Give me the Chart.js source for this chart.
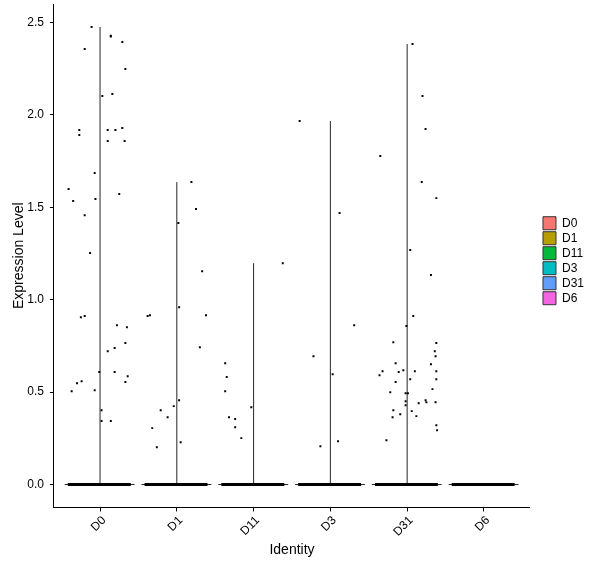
<!DOCTYPE html>
<html>
<head>
<meta charset="utf-8">
<script src="https://cdn.jsdelivr.net/npm/chart.js@4/dist/chart.umd.min.js"></script>
<style>
  body { margin: 0; background: #fff; }
  #wrap { width: 600px; height: 568px; }
</style>
</head>
<body>
<div id="wrap"><canvas id="vln" width="600" height="568"></canvas></div>
<script>
// groups and legend colours (ggplot hue palette)
var groupNames  = ["D0", "D1", "D11", "D3", "D31", "D6"];
var groupColors = ["#F8766D", "#B79F00", "#00BA38", "#00BFC4", "#619CFF", "#F564E3"];

// top of each (flat) violin = max expression in group
var violinMax = [2.475, 1.636, 1.197, 1.966, 2.383, 0];

var yTicks = [0, 0.5, 1.0, 1.5, 2.0, 2.5];

// non-zero cells: expression value + horizontal jitter
var d0Values = [2.475, 2.427, 2.423, 2.393, 2.355, 2.247, 2.101, 2.112, 1.917, 1.890, 1.917, 1.917, 1.928,
  1.858, 1.858, 1.685, 1.598, 1.533, 1.571, 1.544, 1.457, 1.252, 0.905, 0.911, 0.862, 0.851, 0.765,
  0.738, 0.721, 0.608, 0.608, 0.586, 0.554, 0.559, 0.548, 0.505, 0.510, 0.402, 0.343, 0.343];
var d0Jitter = [-0.11, 0.14, 0.14, 0.29, -0.20, 0.33, 0.03, 0.16, -0.27, -0.27, 0.10, 0.20, 0.29,
  0.10, 0.32, -0.07, -0.41, -0.35, 0.25, -0.06, -0.20, -0.13, -0.25, -0.20, 0.22, 0.35, 0.33,
  0.19, 0.10, -0.01, 0.19, 0.36, 0.33, -0.24, -0.30, -0.37, -0.07, 0.02, 0.02, 0.14];

var d1Values = [1.636, 1.490, 1.414, 1.154, 0.959, 0.911, 0.916, 0.916, 0.743, 0.456, 0.424, 0.402,
  0.364, 0.305, 0.229, 0.202];
var d1Jitter = [0.19, 0.25, 0.02, 0.33, 0.03, -0.38, -0.35, 0.38, 0.30, 0.03, -0.04, -0.21,
  -0.12, -0.32, 0.05, -0.26];

var d11Values = [1.197, 0.656, 0.581, 0.505, 0.418, 0.364, 0.354, 0.310, 0.251];
var d11Jitter = [0.38, -0.37, -0.35, -0.37, -0.03, -0.32, -0.24, -0.24, -0.16];

var d3Values = [1.966, 1.468, 0.862, 0.694, 0.597, 0.234, 0.207];
var d3Jitter = [-0.40, 0.12, 0.31, -0.22, 0.03, 0.10, -0.13];

var d31Values = [2.383, 2.101, 1.923, 1.777, 1.636, 1.549, 1.268, 1.133, 0.911, 0.857, 0.770, 0.765,
  0.721, 0.694, 0.651, 0.656, 0.613, 0.591, 0.608, 0.618, 0.613, 0.613, 0.570, 0.570, 0.554, 0.516,
  0.499, 0.494, 0.494, 0.451, 0.429, 0.456, 0.445, 0.440, 0.445, 0.402, 0.397, 0.380, 0.364, 0.370,
  0.321, 0.294, 0.240];
var d31Jitter = [0.07, 0.20, 0.24, -0.35, 0.19, 0.38, 0.04, 0.31, 0.08, -0.01, -0.18, 0.38,
  0.36, 0.37, 0.31, -0.15, -0.32, -0.36, -0.11, -0.05, 0.10, 0.38, 0.04, 0.38, -0.15, 0.33,
  -0.22, -0.02, 0.01, -0.02, -0.02, 0.24, 0.25, 0.15, 0.37, -0.18, 0.06, -0.09, -0.19, 0.12,
  0.38, 0.39, -0.27];

var d6Values = [];
var d6Jitter = [];

var groupValues = [d0Values, d1Values, d11Values, d3Values, d31Values, d6Values];
var groupJitter = [d0Jitter, d1Jitter, d11Jitter, d3Jitter, d31Jitter, d6Jitter];

// put the legend next to the panel, centred on it, like ggplot does
var legendPlace = {
  id: "legendPlace",
  afterLayout: function(chart){
    var lg = chart.legend, area = chart.chartArea;
    var dx = area.right + 11 - lg.left;
    lg.left += dx; lg.right += dx;
    var top = (area.top + area.bottom) / 2 - 41;
    var h = lg.bottom - lg.top;
    lg.top = top; lg.bottom = top + h;
  }
};

function Draw_VlnPlot(canvas){
  var ctx = canvas.getContext("2d");
  var outline = [], zeros = [], cells = [];
  for (var g = 0; g < groupNames.length; g++){
    var pos = g + 1;
    // violin collapsed to a cross: baseline + vertical spike
    outline.push({x: pos - 0.46, y: 0}, {x: pos + 0.45, y: 0}, {x: pos, y: null});
    outline.push({x: pos, y: 0}, {x: pos, y: violinMax[g]}, {x: pos, y: null});
    // the many zero cells jittered into a thick band
    zeros.push({x: pos - 0.42, y: 0}, {x: pos + 0.40, y: 0}, {x: pos, y: null});
    for (var k = 0; k < groupValues[g].length; k++){
      cells.push({x: pos + groupJitter[g][k], y: groupValues[g][k]});
    }
  }

  var dataSource = {
    datasets: [
      {
        type: "scatter",
        data: cells,
        pointStyle: "rect",
        pointRadius: 1.4,
        pointBorderWidth: 0,
        pointBackgroundColor: "#000",
        order: 0
      },
      {
        type: "line",
        data: zeros,
        borderColor: "#000",
        borderWidth: 3,
        pointRadius: 0,
        spanGaps: false,
        order: 1
      },
      {
        type: "line",
        data: outline,
        borderColor: "#262626",
        borderWidth: 1,
        pointRadius: 0,
        spanGaps: false,
        order: 2
      }
    ]
  };

  var font = {family: "'Liberation Sans', Arial, sans-serif", size: 12};
  var options = {
    responsive: false,
    animation: false,
    layout: {padding: {top: 3, left: 11, right: 17, bottom: 5}},
    plugins: {
      tooltip: {enabled: false},
      legend: {
        position: "right",
        align: "start",
        labels: {
          boxWidth: 13,
          boxHeight: 13,
          padding: 2,
          color: "#000",
          font: font,
          generateLabels: function(chart){
            return groupNames.map(function(name, i){
              return {text: name, fillStyle: groupColors[i], strokeStyle: "#333",
                      lineWidth: 1, hidden: false, datasetIndex: 0};
            });
          }
        }
      }
    },
    scales: {
      x: {
        type: "linear",
        min: 0.4,
        max: 6.6,
        afterBuildTicks: function(scale){
          scale.ticks = groupNames.map(function(n, i){ return {value: i + 1}; });
        },
        ticks: {
          autoSkip: false,
          maxRotation: 45,
          minRotation: 45,
          padding: 2,
          labelOffset: 4,
          color: "#000",
          font: font,
          callback: function(v){ return groupNames[Math.round(v) - 1]; }
        },
        grid: {drawOnChartArea: false, tickLength: 4, color: "#000"},
        border: {color: "#000", width: 1},
        title: {display: true, text: "Identity", color: "#000",
                font: {family: font.family, size: 14}, padding: {top: 1}}
      },
      y: {
        type: "linear",
        min: -0.124,
        max: 2.599,
        afterBuildTicks: function(scale){
          scale.ticks = yTicks.map(function(v){ return {value: v}; });
        },
        // panel runs right to the top, no room kept for the end labels
        afterFit: function(scale){
          scale.paddingTop = 0;
          scale.paddingBottom = 0;
        },
        ticks: {
          padding: 6,
          color: "#000",
          font: font,
          callback: function(v){ return v.toFixed(1); }
        },
        grid: {drawOnChartArea: false, tickLength: 4, color: "#000"},
        border: {color: "#000", width: 1},
        title: {display: true, text: "Expression Level", color: "#000",
                font: {family: font.family, size: 14}, padding: {top: 0, bottom: -6.5}}
      }
    }
  };
  var ChartInstance = new Chart(ctx, {type: "scatter", data: dataSource, options: options,
                                      plugins: [legendPlace]});
  return ChartInstance;
}

Draw_VlnPlot(document.getElementById("vln"));
</script>
</body>
</html>
